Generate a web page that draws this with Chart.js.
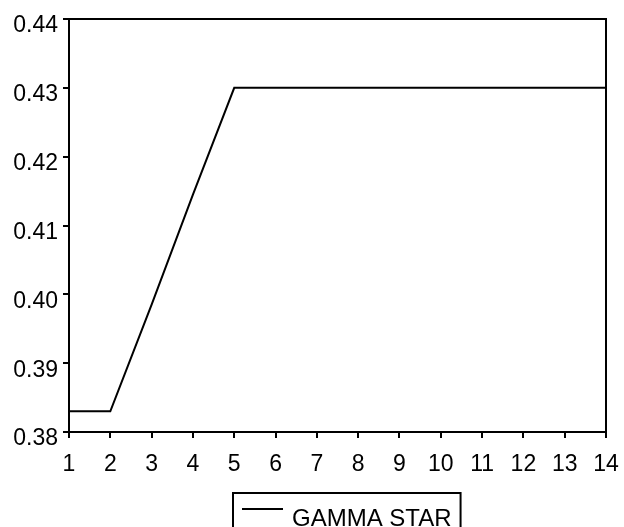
<!DOCTYPE html>
<html lang="en">
<head>
    <meta charset="UTF-8">
    <title>GAMMA STAR</title>
    <script src="https://cdn.jsdelivr.net/npm/chart.js"></script>
    <style>
        html, body { margin: 0; padding: 0; background: #fff; }
        #wrap { width: 624px; height: 527px; }
    </style>
</head>
<body>
    <div id="wrap"><canvas id="gammaChart" width="624" height="527"></canvas></div>

    <script>
        // data
        const periods = ['1', '2', '3', '4', '5', '6', '7', '8', '9', '10', '11', '12', '13', '14'];
        const gammaStar = [0.383, 0.383, 0.3985, 0.4145, 0.43, 0.43, 0.43, 0.43, 0.43, 0.43, 0.43, 0.43, 0.43, 0.43];
        const seriesName = 'GAMMA STAR';

        const FONT = 'Liberation Sans, Arial, sans-serif';

        // box around the plot area
        const frame = {
            id: 'frame',
            afterDraw(chart) {
                const a = chart.chartArea, ctx = chart.ctx;
                ctx.save();
                ctx.strokeStyle = '#000';
                ctx.lineWidth = 2;
                ctx.strokeRect(a.left, a.top, a.right - a.left, a.bottom - a.top);
                ctx.restore();
            }
        };

        // boxed legend under the axis
        const boxLegend = {
            id: 'boxLegend',
            afterDraw(chart) {
                const ctx = chart.ctx;
                const ds = chart.data.datasets[0];
                ctx.save();
                ctx.font = '24px ' + FONT;
                const left = 233, top = 493;
                const textX = left + 9 + 41 + 9;
                const w = textX + ctx.measureText(ds.label).width + 9 - left;
                ctx.strokeStyle = '#000';
                ctx.lineWidth = 2;
                ctx.strokeRect(left, top, w, 60);
                ctx.beginPath();
                ctx.moveTo(left + 9, 509);
                ctx.lineTo(left + 50, 509);
                ctx.strokeStyle = ds.borderColor;
                ctx.stroke();
                ctx.fillStyle = '#000';
                ctx.textBaseline = 'alphabetic';
                ctx.fillText(ds.label, textX, 525.5);
                ctx.restore();
            }
        };

        const ctx = document.getElementById('gammaChart').getContext('2d');
        new Chart(ctx, {
            type: 'line',
            data: {
                labels: periods,
                datasets: [{
                    label: seriesName,
                    data: gammaStar,
                    borderColor: '#000',
                    backgroundColor: '#000',
                    borderWidth: 2,
                    pointRadius: 0,
                    tension: 0,
                    fill: false
                }]
            },
            options: {
                responsive: false,
                animation: false,
                layout: { padding: { left: 0, right: 18, top: 19, bottom: 0 } },
                plugins: {
                    legend: { display: false },
                    tooltip: { enabled: false }
                },
                scales: {
                    x: {
                        offset: false,
                        afterFit: s => { s.height = 95; s.paddingLeft = 0; s.paddingRight = 0; },
                        grid: {
                            display: true, drawOnChartArea: false, drawTicks: true,
                            tickLength: 6, lineWidth: 2, color: '#000'
                        },
                        border: { display: true, color: '#000', width: 2 },
                        ticks: {
                            color: '#000', font: { family: FONT, size: 23 },
                            padding: 13, maxRotation: 0, autoSkip: false
                        }
                    },
                    y: {
                        min: 0.38,
                        max: 0.44,
                        afterFit: s => { s.width = 69; s.paddingTop = 0; s.paddingBottom = 0; },
                        grid: {
                            display: true, drawOnChartArea: false, drawTicks: true,
                            tickLength: 6, lineWidth: 2, color: '#000'
                        },
                        border: { display: true, color: '#000', width: 2 },
                        ticks: {
                            stepSize: 0.01,
                            color: '#000', font: { family: FONT, size: 23 },
                            padding: 5, labelOffset: 7,
                            callback: v => v.toFixed(2)
                        }
                    }
                }
            },
            plugins: [frame, boxLegend]
        });
    </script>
</body>
</html>
